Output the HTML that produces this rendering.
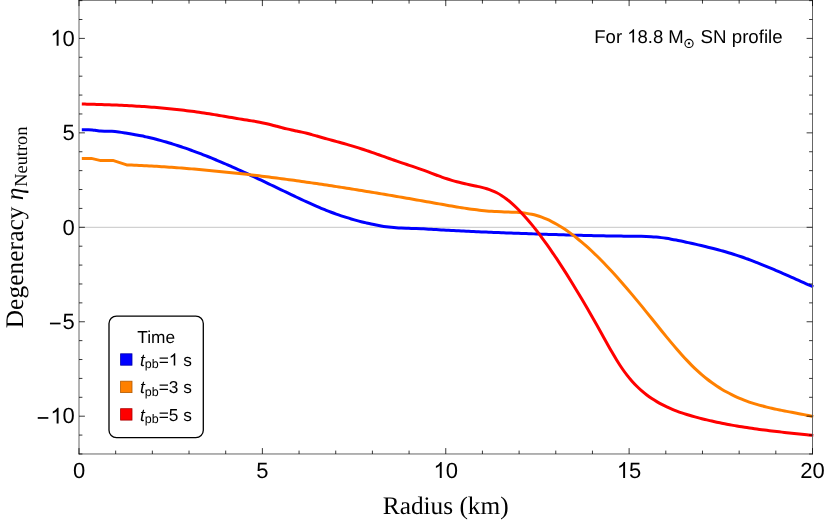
<!DOCTYPE html>
<html><head><meta charset="utf-8"><title>chart</title>
<style>
html,body{margin:0;padding:0;background:#fff;}
body{width:826px;height:522px;overflow:hidden;font-family:"Liberation Sans",sans-serif;}
svg{display:block;text-rendering:geometricPrecision;will-change:transform;}
text{white-space:pre;}
</style></head><body>
<svg width="826" height="522" viewBox="0 0 826 522">
<rect width="826" height="522" fill="#fff"/>
<line x1="79.00" y1="227.30" x2="812.50" y2="227.30" stroke="#c6c6c6" stroke-width="1"/>
<g fill="none" stroke-width="3" stroke-linejoin="round" stroke-linecap="butt">
<path d="M81.80 129.80 C82.67 129.80 85.23 129.78 87.00 129.80 C88.77 129.82 90.82 129.78 92.40 129.90 C93.98 130.02 95.13 130.30 96.50 130.50 C97.87 130.70 99.02 130.97 100.60 131.10 C102.18 131.22 104.12 131.21 106.00 131.25 C107.88 131.29 109.78 131.22 111.90 131.35 C114.02 131.47 116.43 131.72 118.70 132.00 C120.97 132.28 122.95 132.62 125.50 133.05 C128.05 133.48 131.38 134.08 134.00 134.55 C136.62 135.02 139.17 135.45 141.20 135.84 C143.23 136.23 144.53 136.54 146.20 136.91 C147.87 137.28 149.53 137.66 151.20 138.06 C152.87 138.46 154.53 138.88 156.20 139.31 C157.87 139.74 159.53 140.18 161.20 140.64 C162.87 141.09 164.53 141.56 166.20 142.05 C167.87 142.53 169.53 143.03 171.20 143.54 C172.87 144.05 174.53 144.57 176.20 145.10 C177.87 145.64 179.53 146.18 181.20 146.74 C182.87 147.30 184.53 147.87 186.20 148.45 C187.87 149.03 189.53 149.62 191.20 150.23 C192.87 150.83 194.53 151.44 196.20 152.06 C197.87 152.69 199.53 153.32 201.20 153.96 C202.87 154.61 204.53 155.26 206.20 155.92 C207.87 156.58 209.53 157.25 211.20 157.93 C212.87 158.61 214.53 159.29 216.20 159.99 C217.87 160.68 219.53 161.39 221.20 162.10 C222.87 162.80 224.53 163.52 226.20 164.25 C227.87 164.97 229.53 165.70 231.20 166.44 C232.87 167.17 234.53 167.92 236.20 168.66 C237.87 169.41 239.53 170.17 241.20 170.92 C242.87 171.68 244.53 172.45 246.20 173.21 C247.87 173.98 249.53 174.76 251.20 175.53 C252.87 176.31 254.53 177.09 256.20 177.87 C257.87 178.66 259.53 179.44 261.20 180.23 C262.87 181.02 264.53 181.82 266.20 182.61 C267.87 183.41 269.53 184.20 271.20 185.00 C272.87 185.80 274.53 186.60 276.20 187.40 C277.87 188.20 279.53 189.01 281.20 189.81 C282.87 190.61 284.53 191.42 286.20 192.22 C287.87 193.02 289.53 193.82 291.20 194.62 C292.87 195.42 294.53 196.22 296.20 197.01 C297.87 197.80 299.53 198.58 301.20 199.36 C302.87 200.14 304.53 200.91 306.20 201.68 C307.87 202.44 309.53 203.20 311.20 203.94 C312.87 204.68 314.53 205.42 316.20 206.14 C317.87 206.86 319.53 207.57 321.20 208.27 C322.87 208.96 324.53 209.64 326.20 210.31 C327.87 210.97 329.53 211.62 331.20 212.25 C332.87 212.88 334.53 213.50 336.20 214.09 C337.87 214.69 339.53 215.26 341.20 215.82 C342.87 216.38 344.53 216.92 346.20 217.44 C347.87 217.96 349.53 218.47 351.20 218.96 C352.87 219.44 354.53 219.91 356.20 220.37 C357.87 220.82 359.53 221.26 361.20 221.68 C362.87 222.10 364.53 222.50 366.20 222.89 C367.87 223.27 369.53 223.65 371.20 224.00 C372.87 224.35 374.53 224.69 376.20 225.01 C377.87 225.33 379.53 225.63 381.20 225.91 C382.87 226.19 384.53 226.45 386.20 226.69 C387.87 226.92 389.53 227.13 391.20 227.32 C392.87 227.50 394.53 227.67 396.20 227.80 C397.87 227.93 399.53 228.03 401.20 228.11 C402.87 228.19 404.53 228.24 406.20 228.28 C407.87 228.33 409.53 228.35 411.20 228.40 C412.87 228.44 414.53 228.47 416.20 228.53 C417.87 228.58 419.53 228.66 421.20 228.74 C422.87 228.82 424.53 228.91 426.20 229.01 C427.87 229.10 429.53 229.21 431.20 229.31 C432.87 229.41 434.53 229.52 436.20 229.62 C437.87 229.72 439.53 229.82 441.20 229.92 C442.87 230.01 444.53 230.11 446.20 230.20 C447.87 230.29 449.53 230.38 451.20 230.47 C452.87 230.56 454.53 230.65 456.20 230.73 C457.87 230.82 459.53 230.90 461.20 230.98 C462.87 231.06 464.53 231.14 466.20 231.22 C467.87 231.30 469.53 231.37 471.20 231.45 C472.87 231.53 474.53 231.60 476.20 231.67 C477.87 231.74 479.53 231.82 481.20 231.89 C482.87 231.96 484.53 232.03 486.20 232.09 C487.87 232.16 489.53 232.23 491.20 232.30 C492.87 232.36 494.53 232.43 496.20 232.49 C497.87 232.56 499.53 232.62 501.20 232.69 C502.87 232.75 504.53 232.81 506.20 232.88 C507.87 232.94 509.53 233.00 511.20 233.06 C512.87 233.13 514.53 233.19 516.20 233.25 C517.87 233.31 519.53 233.37 521.20 233.43 C522.87 233.49 524.53 233.55 526.20 233.61 C527.87 233.67 529.53 233.73 531.20 233.79 C532.87 233.85 534.53 233.90 536.20 233.96 C537.87 234.02 539.53 234.08 541.20 234.13 C542.87 234.19 544.53 234.24 546.20 234.30 C547.87 234.35 549.53 234.41 551.20 234.46 C552.87 234.52 554.53 234.57 556.20 234.62 C557.87 234.67 559.53 234.72 561.20 234.77 C562.87 234.82 564.53 234.87 566.20 234.92 C567.87 234.97 569.53 235.02 571.20 235.06 C572.87 235.11 574.53 235.16 576.20 235.20 C577.87 235.25 579.53 235.29 581.20 235.33 C582.87 235.37 584.53 235.42 586.20 235.46 C587.87 235.50 589.53 235.54 591.20 235.57 C592.87 235.61 594.53 235.65 596.20 235.68 C597.87 235.72 599.53 235.75 601.20 235.79 C602.87 235.82 604.53 235.85 606.20 235.88 C607.87 235.91 609.53 235.94 611.20 235.97 C612.87 236.00 614.53 236.02 616.20 236.05 C617.87 236.07 619.53 236.10 621.20 236.12 C622.87 236.14 624.53 236.16 626.20 236.19 C627.87 236.21 629.53 236.22 631.20 236.24 C632.87 236.26 634.53 236.28 636.20 236.29 C637.87 236.31 639.53 236.32 641.20 236.34 C642.87 236.36 644.53 236.38 646.20 236.43 C647.87 236.48 649.53 236.55 651.20 236.66 C652.87 236.76 654.53 236.90 656.20 237.06 C657.87 237.23 659.53 237.42 661.20 237.63 C662.87 237.84 664.53 238.08 666.20 238.34 C667.87 238.59 669.53 238.87 671.20 239.16 C672.87 239.45 674.53 239.76 676.20 240.09 C677.87 240.41 679.53 240.75 681.20 241.09 C682.87 241.44 684.53 241.80 686.20 242.16 C687.87 242.52 689.53 242.90 691.20 243.27 C692.87 243.65 694.53 244.02 696.20 244.41 C697.87 244.79 699.53 245.17 701.20 245.57 C702.87 245.96 704.53 246.35 706.20 246.76 C707.87 247.16 709.53 247.58 711.20 248.00 C712.87 248.42 714.53 248.85 716.20 249.28 C717.87 249.72 719.53 250.17 721.20 250.63 C722.87 251.09 724.53 251.56 726.20 252.05 C727.87 252.53 729.53 253.03 731.20 253.54 C732.87 254.05 734.53 254.58 736.20 255.12 C737.87 255.66 739.53 256.22 741.20 256.79 C742.87 257.36 744.53 257.95 746.20 258.55 C747.87 259.15 749.53 259.76 751.20 260.39 C752.87 261.02 754.53 261.66 756.20 262.30 C757.87 262.95 759.53 263.62 761.20 264.29 C762.87 264.96 764.53 265.64 766.20 266.32 C767.87 267.01 769.53 267.71 771.20 268.41 C772.87 269.12 774.53 269.83 776.20 270.54 C777.87 271.26 779.53 271.98 781.20 272.71 C782.87 273.43 784.53 274.16 786.20 274.90 C787.87 275.63 789.53 276.37 791.20 277.11 C792.87 277.85 794.53 278.59 796.20 279.33 C797.87 280.07 799.53 280.81 801.20 281.55 C802.87 282.29 804.53 283.03 806.20 283.77 C807.87 284.51 810.02 285.45 811.20 285.98 C812.38 286.50 812.95 286.74 813.30 286.90" stroke="#0000ff"/>
<path d="M81.80 158.50 L91.30 158.40 L100.80 160.60 L112.80 160.40 L126.70 164.90 L126.70 164.92 C127.53 164.95 130.03 165.04 131.70 165.11 C133.37 165.18 135.03 165.25 136.70 165.33 C138.37 165.40 140.03 165.48 141.70 165.56 C143.37 165.64 145.03 165.73 146.70 165.81 C148.37 165.90 150.03 165.99 151.70 166.08 C153.37 166.18 155.03 166.27 156.70 166.37 C158.37 166.47 160.03 166.57 161.70 166.68 C163.37 166.78 165.03 166.89 166.70 167.00 C168.37 167.11 170.03 167.23 171.70 167.34 C173.37 167.46 175.03 167.58 176.70 167.70 C178.37 167.82 180.03 167.95 181.70 168.08 C183.37 168.21 185.03 168.34 186.70 168.47 C188.37 168.60 190.03 168.74 191.70 168.88 C193.37 169.01 195.03 169.16 196.70 169.30 C198.37 169.44 200.03 169.59 201.70 169.74 C203.37 169.89 205.03 170.04 206.70 170.19 C208.37 170.35 210.03 170.50 211.70 170.66 C213.37 170.82 215.03 170.98 216.70 171.15 C218.37 171.31 220.03 171.48 221.70 171.65 C223.37 171.82 225.03 171.99 226.70 172.16 C228.37 172.34 230.03 172.51 231.70 172.69 C233.37 172.87 235.03 173.05 236.70 173.23 C238.37 173.42 240.03 173.60 241.70 173.79 C243.37 173.98 245.03 174.17 246.70 174.36 C248.37 174.55 250.03 174.74 251.70 174.94 C253.37 175.14 255.03 175.34 256.70 175.54 C258.37 175.74 260.03 175.94 261.70 176.15 C263.37 176.35 265.03 176.56 266.70 176.77 C268.37 176.97 270.03 177.19 271.70 177.40 C273.37 177.61 275.03 177.83 276.70 178.04 C278.37 178.26 280.03 178.48 281.70 178.70 C283.37 178.92 285.03 179.14 286.70 179.37 C288.37 179.59 290.03 179.82 291.70 180.05 C293.37 180.27 295.03 180.50 296.70 180.74 C298.37 180.97 300.03 181.20 301.70 181.44 C303.37 181.67 305.03 181.91 306.70 182.15 C308.37 182.39 310.03 182.63 311.70 182.87 C313.37 183.11 315.03 183.35 316.70 183.60 C318.37 183.85 320.03 184.09 321.70 184.34 C323.37 184.59 325.03 184.84 326.70 185.09 C328.37 185.34 330.03 185.60 331.70 185.85 C333.37 186.10 335.03 186.36 336.70 186.62 C338.37 186.87 340.03 187.13 341.70 187.39 C343.37 187.65 345.03 187.92 346.70 188.18 C348.37 188.44 350.03 188.71 351.70 188.97 C353.37 189.24 355.03 189.50 356.70 189.77 C358.37 190.04 360.03 190.31 361.70 190.58 C363.37 190.85 365.03 191.12 366.70 191.40 C368.37 191.67 370.03 191.94 371.70 192.22 C373.37 192.50 375.03 192.77 376.70 193.05 C378.37 193.33 380.03 193.61 381.70 193.89 C383.37 194.17 385.03 194.45 386.70 194.73 C388.37 195.01 390.03 195.29 391.70 195.58 C393.37 195.86 395.03 196.15 396.70 196.43 C398.37 196.72 400.03 197.00 401.70 197.29 C403.37 197.58 405.03 197.87 406.70 198.16 C408.37 198.45 410.03 198.74 411.70 199.03 C413.37 199.32 415.03 199.61 416.70 199.90 C418.37 200.20 420.03 200.49 421.70 200.78 C423.37 201.08 425.03 201.37 426.70 201.67 C428.37 201.96 430.03 202.26 431.70 202.56 C433.37 202.85 435.03 203.15 436.70 203.45 C438.37 203.75 440.03 204.04 441.70 204.34 C443.37 204.64 445.03 204.93 446.70 205.22 C448.37 205.51 450.03 205.80 451.70 206.09 C453.37 206.37 455.03 206.65 456.70 206.93 C458.37 207.20 460.03 207.47 461.70 207.73 C463.37 207.99 465.03 208.24 466.70 208.49 C468.37 208.73 470.03 208.97 471.70 209.19 C473.37 209.42 475.03 209.64 476.70 209.84 C478.37 210.04 480.03 210.23 481.70 210.41 C483.37 210.59 485.03 210.76 486.70 210.91 C488.37 211.06 490.03 211.19 491.70 211.31 C493.37 211.43 495.03 211.54 496.70 211.62 C498.37 211.71 500.03 211.77 501.70 211.83 C503.37 211.89 505.03 211.92 506.70 211.97 C508.37 212.02 510.03 212.06 511.70 212.13 C513.37 212.19 515.03 212.26 516.70 212.36 C518.37 212.46 520.03 212.58 521.70 212.75 C523.37 212.91 525.03 213.11 526.70 213.36 C528.37 213.61 530.03 213.91 531.70 214.27 C533.37 214.64 535.03 215.06 536.70 215.55 C538.37 216.04 540.03 216.59 541.70 217.20 C543.37 217.81 545.03 218.49 546.70 219.21 C548.37 219.94 550.03 220.73 551.70 221.57 C553.37 222.41 555.03 223.31 556.70 224.26 C558.37 225.21 560.03 226.21 561.70 227.26 C563.37 228.31 565.03 229.41 566.70 230.56 C568.37 231.71 570.03 232.91 571.70 234.14 C573.37 235.38 575.03 236.67 576.70 238.00 C578.37 239.32 580.03 240.69 581.70 242.10 C583.37 243.51 585.03 244.96 586.70 246.45 C588.37 247.93 590.03 249.46 591.70 251.02 C593.37 252.58 595.03 254.17 596.70 255.80 C598.37 257.43 600.03 259.09 601.70 260.79 C603.37 262.48 605.03 264.20 606.70 265.95 C608.37 267.71 610.03 269.49 611.70 271.29 C613.37 273.10 615.03 274.93 616.70 276.79 C618.37 278.65 620.03 280.53 621.70 282.43 C623.37 284.34 625.03 286.26 626.70 288.21 C628.37 290.15 630.03 292.12 631.70 294.10 C633.37 296.08 635.03 298.08 636.70 300.09 C638.37 302.10 640.03 304.13 641.70 306.17 C643.37 308.21 645.03 310.27 646.70 312.33 C648.37 314.39 650.03 316.47 651.70 318.55 C653.37 320.62 655.03 322.70 656.70 324.78 C658.37 326.85 660.03 328.93 661.70 330.98 C663.37 333.04 665.03 335.09 666.70 337.12 C668.37 339.15 670.03 341.16 671.70 343.15 C673.37 345.13 675.03 347.09 676.70 349.02 C678.37 350.95 680.03 352.85 681.70 354.70 C683.37 356.56 685.03 358.38 686.70 360.15 C688.37 361.92 690.03 363.65 691.70 365.32 C693.37 366.99 695.03 368.61 696.70 370.17 C698.37 371.73 700.03 373.22 701.70 374.66 C703.37 376.10 705.03 377.47 706.70 378.79 C708.37 380.11 710.03 381.36 711.70 382.57 C713.37 383.78 715.03 384.93 716.70 386.03 C718.37 387.13 720.03 388.18 721.70 389.19 C723.37 390.19 725.03 391.14 726.70 392.06 C728.37 392.97 730.03 393.83 731.70 394.66 C733.37 395.49 735.03 396.27 736.70 397.02 C738.37 397.77 740.03 398.47 741.70 399.15 C743.37 399.83 745.03 400.46 746.70 401.07 C748.37 401.68 750.03 402.26 751.70 402.81 C753.37 403.36 755.03 403.88 756.70 404.38 C758.37 404.88 760.03 405.35 761.70 405.80 C763.37 406.26 765.03 406.68 766.70 407.10 C768.37 407.51 770.03 407.90 771.70 408.28 C773.37 408.66 775.03 409.02 776.70 409.38 C778.37 409.73 780.03 410.07 781.70 410.40 C783.37 410.74 785.03 411.06 786.70 411.38 C788.37 411.70 790.03 412.01 791.70 412.32 C793.37 412.64 795.03 412.94 796.70 413.26 C798.37 413.57 800.03 413.88 801.70 414.20 C803.37 414.52 805.03 414.84 806.70 415.17 C808.37 415.51 810.60 415.97 811.70 416.19 C812.80 416.42 813.03 416.48 813.30 416.53" stroke="#ff8000"/>
<path d="M81.80 104.05 C82.63 104.07 85.13 104.12 86.80 104.15 C88.47 104.19 90.13 104.23 91.80 104.27 C93.47 104.31 95.13 104.36 96.80 104.40 C98.47 104.45 100.13 104.50 101.80 104.55 C103.47 104.61 105.13 104.66 106.80 104.72 C108.47 104.78 110.13 104.84 111.80 104.90 C113.47 104.97 115.13 105.04 116.80 105.11 C118.47 105.18 120.13 105.25 121.80 105.33 C123.47 105.41 125.13 105.49 126.80 105.58 C128.47 105.66 130.13 105.75 131.80 105.85 C133.47 105.94 135.13 106.04 136.80 106.14 C138.47 106.24 140.13 106.35 141.80 106.46 C143.47 106.57 145.13 106.68 146.80 106.80 C148.47 106.92 150.13 107.05 151.80 107.18 C153.47 107.31 155.13 107.44 156.80 107.58 C158.47 107.72 160.13 107.86 161.80 108.01 C163.47 108.16 165.13 108.31 166.80 108.47 C168.47 108.63 170.13 108.80 171.80 108.97 C173.47 109.14 175.13 109.31 176.80 109.50 C178.47 109.68 180.13 109.87 181.80 110.06 C183.47 110.25 185.13 110.45 186.80 110.66 C188.47 110.86 190.13 111.07 191.80 111.29 C193.47 111.51 195.13 111.74 196.80 111.97 C198.47 112.20 200.13 112.44 201.80 112.68 C203.47 112.92 205.13 113.18 206.80 113.43 C208.47 113.69 210.13 113.96 211.80 114.22 C213.47 114.49 215.13 114.77 216.80 115.04 C218.47 115.32 220.13 115.60 221.80 115.89 C223.47 116.17 225.13 116.45 226.80 116.74 C228.47 117.02 230.13 117.31 231.80 117.59 C233.47 117.87 235.13 118.16 236.80 118.44 C238.47 118.72 240.13 118.99 241.80 119.27 C243.47 119.54 245.13 119.80 246.80 120.07 C248.47 120.34 250.13 120.60 251.80 120.88 C253.47 121.16 255.13 121.43 256.80 121.73 C258.47 122.03 260.13 122.33 261.80 122.66 C263.47 122.99 265.13 123.34 266.80 123.72 C268.47 124.10 270.13 124.51 271.80 124.93 C273.47 125.35 275.13 125.81 276.80 126.26 C278.47 126.71 280.13 127.18 281.80 127.62 C283.47 128.06 285.13 128.50 286.80 128.91 C288.47 129.31 290.13 129.69 291.80 130.05 C293.47 130.41 295.13 130.72 296.80 131.06 C298.47 131.40 300.13 131.73 301.80 132.11 C303.47 132.48 305.13 132.88 306.80 133.30 C308.47 133.72 310.13 134.17 311.80 134.62 C313.47 135.07 315.13 135.55 316.80 136.02 C318.47 136.49 320.13 136.98 321.80 137.45 C323.47 137.93 325.13 138.41 326.80 138.87 C328.47 139.34 330.13 139.80 331.80 140.26 C333.47 140.72 335.13 141.17 336.80 141.62 C338.47 142.08 340.13 142.53 341.80 142.99 C343.47 143.45 345.13 143.91 346.80 144.39 C348.47 144.86 350.13 145.34 351.80 145.84 C353.47 146.34 355.13 146.85 356.80 147.37 C358.47 147.89 360.13 148.42 361.80 148.96 C363.47 149.50 365.13 150.05 366.80 150.61 C368.47 151.17 370.13 151.74 371.80 152.31 C373.47 152.89 375.13 153.47 376.80 154.05 C378.47 154.63 380.13 155.22 381.80 155.81 C383.47 156.40 385.13 156.99 386.80 157.58 C388.47 158.17 390.13 158.76 391.80 159.35 C393.47 159.93 395.13 160.52 396.80 161.10 C398.47 161.68 400.13 162.25 401.80 162.82 C403.47 163.38 405.13 163.94 406.80 164.50 C408.47 165.05 410.13 165.60 411.80 166.15 C413.47 166.71 415.13 167.26 416.80 167.83 C418.47 168.40 420.13 168.98 421.80 169.58 C423.47 170.18 425.13 170.80 426.80 171.43 C428.47 172.06 430.13 172.70 431.80 173.34 C433.47 173.97 435.13 174.62 436.80 175.24 C438.47 175.86 440.13 176.49 441.80 177.08 C443.47 177.67 445.13 178.25 446.80 178.79 C448.47 179.33 450.13 179.84 451.80 180.33 C453.47 180.81 455.13 181.27 456.80 181.70 C458.47 182.14 460.13 182.55 461.80 182.95 C463.47 183.35 465.13 183.73 466.80 184.10 C468.47 184.47 470.13 184.82 471.80 185.18 C473.47 185.54 475.13 185.87 476.80 186.24 C478.47 186.61 480.13 186.97 481.80 187.40 C483.47 187.82 485.13 188.25 486.80 188.78 C488.47 189.30 490.13 189.86 491.80 190.53 C493.47 191.19 495.13 191.92 496.80 192.78 C498.47 193.64 500.13 194.60 501.80 195.67 C503.47 196.75 505.13 197.94 506.80 199.22 C508.47 200.50 510.13 201.89 511.80 203.36 C513.47 204.83 515.13 206.40 516.80 208.03 C518.47 209.67 520.13 211.40 521.80 213.18 C523.47 214.97 525.13 216.83 526.80 218.74 C528.47 220.66 530.13 222.64 531.80 224.67 C533.47 226.71 535.13 228.80 536.80 230.95 C538.47 233.09 540.13 235.29 541.80 237.54 C543.47 239.78 545.13 242.07 546.80 244.41 C548.47 246.75 550.13 249.13 551.80 251.56 C553.47 253.98 555.13 256.45 556.80 258.95 C558.47 261.46 560.13 264.00 561.80 266.58 C563.47 269.16 565.13 271.78 566.80 274.43 C568.47 277.08 570.13 279.76 571.80 282.48 C573.47 285.19 575.13 287.93 576.80 290.70 C578.47 293.46 580.13 296.26 581.80 299.08 C583.47 301.90 585.13 304.74 586.80 307.61 C588.47 310.47 590.13 313.36 591.80 316.27 C593.47 319.19 595.13 322.12 596.80 325.07 C598.47 328.02 600.13 331.00 601.80 333.98 C603.47 336.97 605.13 339.99 606.80 342.96 C608.47 345.93 610.13 348.91 611.80 351.79 C613.47 354.67 615.13 357.52 616.80 360.22 C618.47 362.92 620.13 365.55 621.80 368.00 C623.47 370.45 625.13 372.76 626.80 374.92 C628.47 377.09 630.13 379.09 631.80 380.99 C633.47 382.88 635.13 384.63 636.80 386.28 C638.47 387.93 640.13 389.46 641.80 390.90 C643.47 392.34 645.13 393.67 646.80 394.94 C648.47 396.20 650.13 397.36 651.80 398.48 C653.47 399.59 655.13 400.63 656.80 401.62 C658.47 402.61 660.13 403.54 661.80 404.42 C663.47 405.30 665.13 406.13 666.80 406.91 C668.47 407.70 670.13 408.43 671.80 409.14 C673.47 409.84 675.13 410.49 676.80 411.12 C678.47 411.75 680.13 412.34 681.80 412.90 C683.47 413.47 685.13 414.00 686.80 414.52 C688.47 415.03 690.13 415.52 691.80 416.00 C693.47 416.47 695.13 416.93 696.80 417.38 C698.47 417.82 700.13 418.25 701.80 418.68 C703.47 419.10 705.13 419.51 706.80 419.91 C708.47 420.31 710.13 420.69 711.80 421.07 C713.47 421.45 715.13 421.81 716.80 422.17 C718.47 422.52 720.13 422.87 721.80 423.20 C723.47 423.54 725.13 423.86 726.80 424.18 C728.47 424.50 730.13 424.81 731.80 425.11 C733.47 425.41 735.13 425.70 736.80 425.98 C738.47 426.26 740.13 426.54 741.80 426.81 C743.47 427.08 745.13 427.34 746.80 427.59 C748.47 427.85 750.13 428.09 751.80 428.33 C753.47 428.57 755.13 428.81 756.80 429.04 C758.47 429.27 760.13 429.49 761.80 429.71 C763.47 429.93 765.13 430.14 766.80 430.35 C768.47 430.56 770.13 430.77 771.80 430.97 C773.47 431.17 775.13 431.36 776.80 431.56 C778.47 431.75 780.13 431.94 781.80 432.13 C783.47 432.32 785.13 432.50 786.80 432.68 C788.47 432.87 790.13 433.05 791.80 433.23 C793.47 433.40 795.13 433.58 796.80 433.76 C798.47 433.93 800.13 434.11 801.80 434.28 C803.47 434.46 805.13 434.63 806.80 434.81 C808.47 434.98 810.72 435.22 811.80 435.33 C812.88 435.44 813.05 435.46 813.30 435.49" stroke="#ff0000"/>
</g>
<g stroke="#666666" stroke-width="1" fill="none">
<line x1="79.00" y1="0.12" x2="79.00" y2="454.48"/>
<line x1="812.50" y1="0.12" x2="812.50" y2="454.48"/>
<line x1="78.50" y1="0.30" x2="813.00" y2="0.30"/>
<line x1="78.50" y1="453.98" x2="813.00" y2="453.98"/>
</g>
<g stroke="#000000" stroke-width="0.78" fill="none">
<line x1="79.00" y1="453.98" x2="79.00" y2="448.08"/>
<line x1="79.00" y1="0.00" x2="79.00" y2="6.10"/>
<line x1="115.67" y1="453.98" x2="115.67" y2="450.58"/>
<line x1="115.67" y1="0.00" x2="115.67" y2="3.60"/>
<line x1="152.35" y1="453.98" x2="152.35" y2="450.58"/>
<line x1="152.35" y1="0.00" x2="152.35" y2="3.60"/>
<line x1="189.02" y1="453.98" x2="189.02" y2="450.58"/>
<line x1="189.02" y1="0.00" x2="189.02" y2="3.60"/>
<line x1="225.70" y1="453.98" x2="225.70" y2="450.58"/>
<line x1="225.70" y1="0.00" x2="225.70" y2="3.60"/>
<line x1="262.38" y1="453.98" x2="262.38" y2="448.08"/>
<line x1="262.38" y1="0.00" x2="262.38" y2="6.10"/>
<line x1="299.05" y1="453.98" x2="299.05" y2="450.58"/>
<line x1="299.05" y1="0.00" x2="299.05" y2="3.60"/>
<line x1="335.72" y1="453.98" x2="335.72" y2="450.58"/>
<line x1="335.72" y1="0.00" x2="335.72" y2="3.60"/>
<line x1="372.40" y1="453.98" x2="372.40" y2="450.58"/>
<line x1="372.40" y1="0.00" x2="372.40" y2="3.60"/>
<line x1="409.07" y1="453.98" x2="409.07" y2="450.58"/>
<line x1="409.07" y1="0.00" x2="409.07" y2="3.60"/>
<line x1="445.75" y1="453.98" x2="445.75" y2="448.08"/>
<line x1="445.75" y1="0.00" x2="445.75" y2="6.10"/>
<line x1="482.42" y1="453.98" x2="482.42" y2="450.58"/>
<line x1="482.42" y1="0.00" x2="482.42" y2="3.60"/>
<line x1="519.10" y1="453.98" x2="519.10" y2="450.58"/>
<line x1="519.10" y1="0.00" x2="519.10" y2="3.60"/>
<line x1="555.77" y1="453.98" x2="555.77" y2="450.58"/>
<line x1="555.77" y1="0.00" x2="555.77" y2="3.60"/>
<line x1="592.45" y1="453.98" x2="592.45" y2="450.58"/>
<line x1="592.45" y1="0.00" x2="592.45" y2="3.60"/>
<line x1="629.12" y1="453.98" x2="629.12" y2="448.08"/>
<line x1="629.12" y1="0.00" x2="629.12" y2="6.10"/>
<line x1="665.80" y1="453.98" x2="665.80" y2="450.58"/>
<line x1="665.80" y1="0.00" x2="665.80" y2="3.60"/>
<line x1="702.47" y1="453.98" x2="702.47" y2="450.58"/>
<line x1="702.47" y1="0.00" x2="702.47" y2="3.60"/>
<line x1="739.15" y1="453.98" x2="739.15" y2="450.58"/>
<line x1="739.15" y1="0.00" x2="739.15" y2="3.60"/>
<line x1="775.82" y1="453.98" x2="775.82" y2="450.58"/>
<line x1="775.82" y1="0.00" x2="775.82" y2="3.60"/>
<line x1="812.50" y1="453.98" x2="812.50" y2="448.08"/>
<line x1="812.50" y1="0.00" x2="812.50" y2="6.10"/>
<line x1="79.00" y1="453.98" x2="82.40" y2="453.98"/>
<line x1="812.50" y1="453.98" x2="809.10" y2="453.98"/>
<line x1="79.00" y1="435.09" x2="82.40" y2="435.09"/>
<line x1="812.50" y1="435.09" x2="809.10" y2="435.09"/>
<line x1="79.00" y1="416.20" x2="84.90" y2="416.20"/>
<line x1="812.50" y1="416.20" x2="806.60" y2="416.20"/>
<line x1="79.00" y1="397.31" x2="82.40" y2="397.31"/>
<line x1="812.50" y1="397.31" x2="809.10" y2="397.31"/>
<line x1="79.00" y1="378.42" x2="82.40" y2="378.42"/>
<line x1="812.50" y1="378.42" x2="809.10" y2="378.42"/>
<line x1="79.00" y1="359.53" x2="82.40" y2="359.53"/>
<line x1="812.50" y1="359.53" x2="809.10" y2="359.53"/>
<line x1="79.00" y1="340.64" x2="82.40" y2="340.64"/>
<line x1="812.50" y1="340.64" x2="809.10" y2="340.64"/>
<line x1="79.00" y1="321.75" x2="84.90" y2="321.75"/>
<line x1="812.50" y1="321.75" x2="806.60" y2="321.75"/>
<line x1="79.00" y1="302.86" x2="82.40" y2="302.86"/>
<line x1="812.50" y1="302.86" x2="809.10" y2="302.86"/>
<line x1="79.00" y1="283.97" x2="82.40" y2="283.97"/>
<line x1="812.50" y1="283.97" x2="809.10" y2="283.97"/>
<line x1="79.00" y1="265.08" x2="82.40" y2="265.08"/>
<line x1="812.50" y1="265.08" x2="809.10" y2="265.08"/>
<line x1="79.00" y1="246.19" x2="82.40" y2="246.19"/>
<line x1="812.50" y1="246.19" x2="809.10" y2="246.19"/>
<line x1="79.00" y1="227.30" x2="84.90" y2="227.30"/>
<line x1="812.50" y1="227.30" x2="806.60" y2="227.30"/>
<line x1="79.00" y1="208.41" x2="82.40" y2="208.41"/>
<line x1="812.50" y1="208.41" x2="809.10" y2="208.41"/>
<line x1="79.00" y1="189.52" x2="82.40" y2="189.52"/>
<line x1="812.50" y1="189.52" x2="809.10" y2="189.52"/>
<line x1="79.00" y1="170.63" x2="82.40" y2="170.63"/>
<line x1="812.50" y1="170.63" x2="809.10" y2="170.63"/>
<line x1="79.00" y1="151.74" x2="82.40" y2="151.74"/>
<line x1="812.50" y1="151.74" x2="809.10" y2="151.74"/>
<line x1="79.00" y1="132.85" x2="84.90" y2="132.85"/>
<line x1="812.50" y1="132.85" x2="806.60" y2="132.85"/>
<line x1="79.00" y1="113.96" x2="82.40" y2="113.96"/>
<line x1="812.50" y1="113.96" x2="809.10" y2="113.96"/>
<line x1="79.00" y1="95.07" x2="82.40" y2="95.07"/>
<line x1="812.50" y1="95.07" x2="809.10" y2="95.07"/>
<line x1="79.00" y1="76.18" x2="82.40" y2="76.18"/>
<line x1="812.50" y1="76.18" x2="809.10" y2="76.18"/>
<line x1="79.00" y1="57.29" x2="82.40" y2="57.29"/>
<line x1="812.50" y1="57.29" x2="809.10" y2="57.29"/>
<line x1="79.00" y1="38.40" x2="84.90" y2="38.40"/>
<line x1="812.50" y1="38.40" x2="806.60" y2="38.40"/>
<line x1="79.00" y1="19.51" x2="82.40" y2="19.51"/>
<line x1="812.50" y1="19.51" x2="809.10" y2="19.51"/>
<line x1="79.00" y1="0.62" x2="82.40" y2="0.62"/>
<line x1="812.50" y1="0.62" x2="809.10" y2="0.62"/>
</g>
<g font-family="'Liberation Sans', sans-serif" fill="#000" xml:space="preserve">
<text x="72.88" y="477.90" font-size="22">0</text>
<text x="256.26" y="477.90" font-size="22">5</text>
<path d="M763 0H583V1147Q518 1085 412.5 1023Q307 961 223 930V1104Q374 1175 487 1276Q600 1377 647 1472H763Z" transform="translate(433.51 477.90) scale(0.01074 -0.01074)" fill="#000"/><text x="445.75" y="477.90" font-size="22">0</text>
<path d="M763 0H583V1147Q518 1085 412.5 1023Q307 961 223 930V1104Q374 1175 487 1276Q600 1377 647 1472H763Z" transform="translate(616.89 477.90) scale(0.01074 -0.01074)" fill="#000"/><text x="629.12" y="477.90" font-size="22">5</text>
<text x="800.26" y="477.90" font-size="22">20</text>
<path d="M763 0H583V1147Q518 1085 412.5 1023Q307 961 223 930V1104Q374 1175 487 1276Q600 1377 647 1472H763Z" transform="translate(50.38 45.65) scale(0.01074 -0.01074)" fill="#000"/><text x="62.61" y="45.65" font-size="22">0</text>
<text x="62.61" y="140.10" font-size="22">5</text>
<text x="62.61" y="234.55" font-size="22">0</text>
<text x="62.61" y="329.00" font-size="22">5</text>
<rect x="49.96" y="322.65" width="10.6" height="1.7"/>
<path d="M763 0H583V1147Q518 1085 412.5 1023Q307 961 223 930V1104Q374 1175 487 1276Q600 1377 647 1472H763Z" transform="translate(50.38 423.45) scale(0.01074 -0.01074)" fill="#000"/><text x="62.61" y="423.45" font-size="22">0</text>
<rect x="37.73" y="417.10" width="10.6" height="1.7"/>
</g>
<text x="445.70" y="513.90" text-anchor="middle" font-family="'Liberation Serif', serif" font-size="25.3">Radius (km)</text>
<g font-family="'Liberation Serif', serif" fill="#000"><text transform="translate(22.9 328.3) rotate(-90)" font-size="25.3" letter-spacing="0.11">Degeneracy</text><text transform="translate(22.9 200.2) rotate(-90)" font-size="25.3" font-style="italic">η</text><text transform="translate(27.2 186.8) rotate(-90)" font-size="18.4">Neutron</text></g>
<g font-family="'Liberation Sans', sans-serif" fill="#000" xml:space="preserve"><text x="594.30" y="42.60" font-size="18.5">For </text><path d="M763 0H583V1147Q518 1085 412.5 1023Q307 961 223 930V1104Q374 1175 487 1276Q600 1377 647 1472H763Z" transform="translate(627.19 42.60) scale(0.00903 -0.00903)" fill="#000"/><text x="637.48" y="42.60" font-size="18.5">8.8 M</text><text x="700.60" y="42.60" font-size="18.7">SN profile</text></g><circle cx="689.0" cy="43.45" r="4.1" fill="none" stroke="#000" stroke-width="1.1"/><circle cx="689.0" cy="43.45" r="1.15" fill="#000"/>
<rect x="109" y="316.1" width="94.3" height="121.6" rx="7.5" ry="7.5" fill="#fff" stroke="#000" stroke-width="1.3"/><text x="156.2" y="342.9" text-anchor="middle" font-family="'Liberation Sans', sans-serif" font-size="17.3" fill="#000">Time</text><rect x="120.6" y="353.80" width="11.4" height="11.4" fill="#0000ff" stroke="#0000aa" stroke-width="0.8"/><g font-family="'Liberation Sans', sans-serif" fill="#000" xml:space="preserve"><text x="140.00" y="365.60" font-size="17.3" font-style="italic">t</text><text x="144.81" y="368.40" font-size="12.5">pb</text><text x="158.71" y="365.60" font-size="17.3">=</text><path d="M763 0H583V1147Q518 1085 412.5 1023Q307 961 223 930V1104Q374 1175 487 1276Q600 1377 647 1472H763Z" transform="translate(168.81 365.60) scale(0.00845 -0.00845)" fill="#000"/><text x="178.43" y="365.60" font-size="17.3"> s</text></g><rect x="120.6" y="381.20" width="11.4" height="11.4" fill="#ff8000" stroke="#b25900" stroke-width="0.8"/><g font-family="'Liberation Sans', sans-serif" fill="#000" xml:space="preserve"><text x="140.00" y="393.00" font-size="17.3" font-style="italic">t</text><text x="144.81" y="395.80" font-size="12.5">pb</text><text x="158.71" y="393.00" font-size="17.3">=3 s</text></g><rect x="120.6" y="408.70" width="11.4" height="11.4" fill="#ff0000" stroke="#aa0000" stroke-width="0.8"/><g font-family="'Liberation Sans', sans-serif" fill="#000" xml:space="preserve"><text x="140.00" y="420.50" font-size="17.3" font-style="italic">t</text><text x="144.81" y="423.30" font-size="12.5">pb</text><text x="158.71" y="420.50" font-size="17.3">=5 s</text></g>
</svg>
</body></html>
